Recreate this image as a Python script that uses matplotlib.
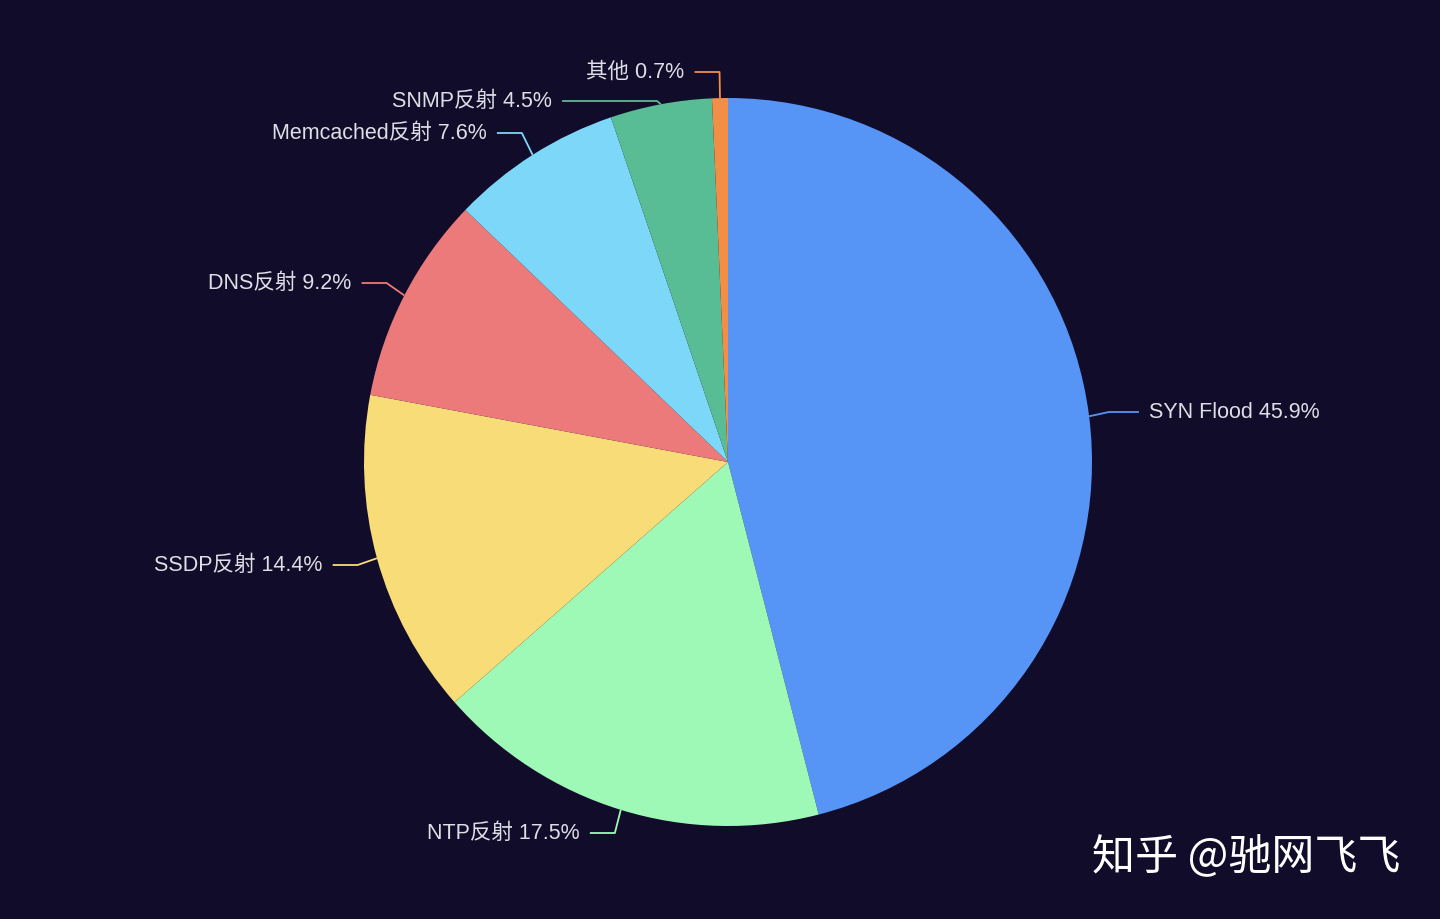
import numpy as np
import matplotlib
matplotlib.use("Agg")
import matplotlib.pyplot as plt

plt.rcParams["font.family"] = ["Liberation Sans", "Noto Sans CJK SC", "DejaVu Sans"]

# data (clockwise from 12 o'clock)
labels = ["SYN Flood", "NTP反射", "SSDP反射", "DNS反射", "Memcached反射", "SNMP反射", "其他"]
shares = [45.9, 17.5, 14.4, 9.2, 7.6, 4.5, 0.7]
colors = ["#5694f5", "#9ff9b6", "#f8dc77", "#ed7a7a", "#7dd7f8", "#58bc94", "#f38e47"]

# layout (pixel units, measured from the top)
W, H = 1440, 919
CX, CY, R = 728, 462, 364
LEN1, LEN2, GAP = 20, 25, 10
# label y positions / extra line length after the chart's overlap shift
label_y = [412, 833, 565, 283, 133, 101, 72]
extra_len = [5, 0, 0, 0, 0, 70, 0]
BG = "#100c2a"
TEXT = "#dedee6"

fig = plt.figure(figsize=(W / 100, H / 100), dpi=100, facecolor=BG)
ax = fig.add_axes([0, 0, 1, 1])
ax.set_facecolor(BG)

wedges, _ = ax.pie(shares, colors=colors, startangle=90, counterclock=False,
                   center=(CX, H - CY), radius=R, frame=True,
                   wedgeprops=dict(linewidth=0))
ax.set_xlim(0, W)
ax.set_ylim(0, H)
ax.set_aspect("equal")
ax.axis("off")

for w, lab, val, ly, ex, c in zip(wedges, labels, shares, label_y, extra_len, colors):
    mid = np.deg2rad((w.theta1 + w.theta2) / 2)
    x0 = CX + R * np.cos(mid)
    y0 = H - CY + R * np.sin(mid)
    x1 = CX + (R + LEN1) * np.cos(mid)
    y1 = H - ly
    side = 1 if np.cos(mid) >= 0 else -1
    x2 = x1 + side * (LEN2 + ex)
    ax.plot([x0, x1, x2], [y0, y1, y1], color=c, linewidth=1.3,
            solid_capstyle="butt")
    ax.text(x2 + side * GAP, y1, f"{lab} {val}%", color=TEXT, fontsize=15.5,
            ha="left" if side > 0 else "right", va="center")

ax.text(1400, 919 - 858, "知乎 @驰网飞飞", color="white", fontsize=31,
        family=["Noto Sans CJK SC"], fontweight="medium",
        ha="right", va="center")

fig.savefig("out.png", dpi=100, facecolor=BG)
